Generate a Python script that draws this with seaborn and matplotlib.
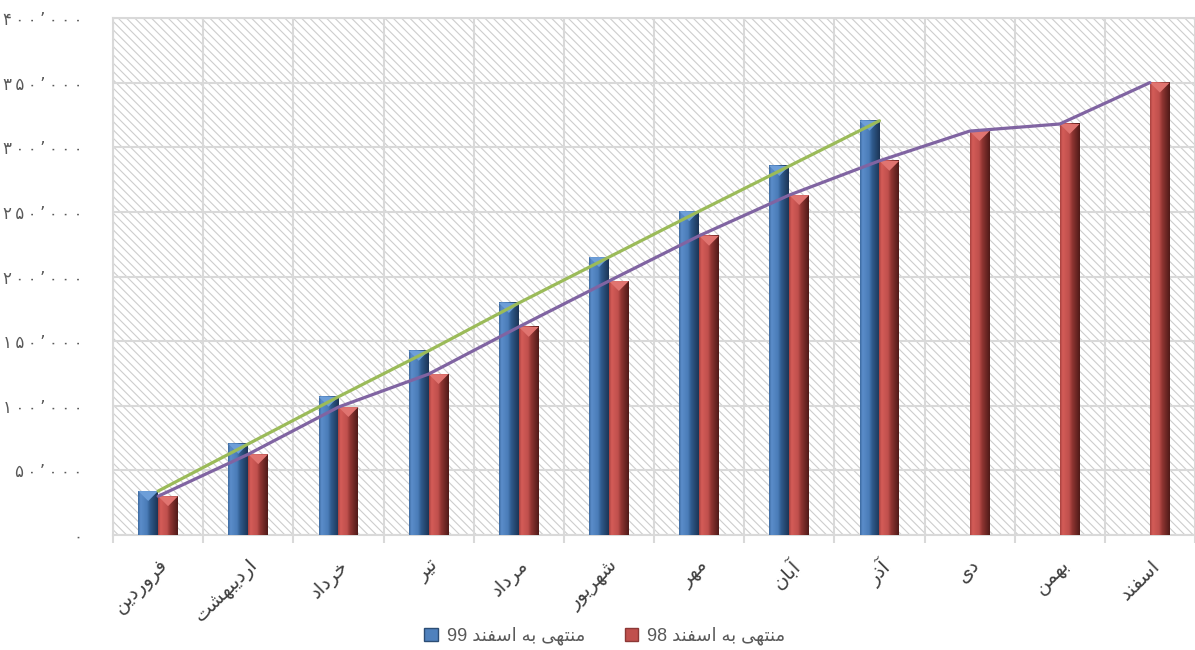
import re
import numpy as np
import pandas as pd
import matplotlib
matplotlib.use("Agg")
import matplotlib.pyplot as plt
from matplotlib.patches import Rectangle, Patch, Polygon
from matplotlib.colors import LinearSegmentedColormap
import seaborn as sns

# ---- data -------------------------------------------------------------
months = ["فروردین", "اردیبهشت", "خرداد", "تیر", "مرداد", "شهریور",
          "مهر", "آبان", "آذر", "دی", "بهمن", "اسفند"]
series_99 = [34000, 70500, 107000, 142500, 179500, 215000, 250500, 285500, 320500]
series_98 = [30000, 62500, 99000, 124500, 161000, 196500, 231500, 263000,
             289500, 312500, 318000, 350000]
label_99 = "منتهی به اسفند 99"
label_98 = "منتهی به اسفند 98"
y_ticks = list(range(0, 400001, 50000))

# ---- simple Persian shaping (presentation forms) + visual ordering ----
# isolated, final, initial, medial
FORMS = {
    'ا': ('\uFE8D', '\uFE8E', None, None),
    'آ': ('\uFE81', '\uFE82', None, None),
    'ب': ('\uFE8F', '\uFE90', '\uFE91', '\uFE92'),
    'ت': ('\uFE95', '\uFE96', '\uFE97', '\uFE98'),
    'خ': ('\uFEA5', '\uFEA6', '\uFEA7', '\uFEA8'),
    'د': ('\uFEA9', '\uFEAA', None, None),
    'ذ': ('\uFEAB', '\uFEAC', None, None),
    'ر': ('\uFEAD', '\uFEAE', None, None),
    'ز': ('\uFEAF', '\uFEB0', None, None),
    'س': ('\uFEB1', '\uFEB2', '\uFEB3', '\uFEB4'),
    'ش': ('\uFEB5', '\uFEB6', '\uFEB7', '\uFEB8'),
    'ف': ('\uFED1', '\uFED2', '\uFED3', '\uFED4'),
    'م': ('\uFEE1', '\uFEE2', '\uFEE3', '\uFEE4'),
    'ن': ('\uFEE5', '\uFEE6', '\uFEE7', '\uFEE8'),
    'ه': ('\uFEE9', '\uFEEA', '\uFEEB', '\uFEEC'),
    'و': ('\uFEED', '\uFEEE', None, None),
    'ی': ('\uFEEF', '\uFEF0', '\uFEF3', '\uFEF4'),
}


def shape(text):
    out = []
    for i, ch in enumerate(text):
        f = FORMS.get(ch)
        if f is None:
            out.append(ch)
            continue
        prev = text[i - 1] if i > 0 else ''
        nxt = text[i + 1] if i + 1 < len(text) else ''
        join_prev = prev in FORMS and FORMS[prev][2] is not None
        join_next = f[2] is not None and nxt in FORMS
        if join_prev and join_next:
            out.append(f[3])
        elif join_prev:
            out.append(f[1])
        elif join_next:
            out.append(f[2])
        else:
            out.append(f[0])
    return ''.join(out)


def rtl(text):
    vis = shape(text)[::-1]
    return re.sub(r'[0-9]+', lambda m: m.group(0)[::-1], vis)


fa_digits = str.maketrans("0123456789", "۰۱۲۳۴۵۶۷۸۹")


def fa_number(v):
    s = f"{int(v):,}".replace(",", "’").translate(fa_digits)
    # loosely tracked digits
    return "\u2009".join(s)


# ---- style ------------------------------------------------------------
sns.set_theme(style="white")
plt.rcParams['font.family'] = ['DejaVu Sans']
plt.rcParams['hatch.linewidth'] = 0.8

blue, red = "#4f81bd", "#c0504d"
green, purple = "#9bbb59", "#8064a2"
grid_c = "#d9d9d9"

fig = plt.figure(figsize=(11.95, 6.5), dpi=100)
ax = fig.add_axes([0.0946, 0.1769, 0.9054, 0.7954])

rows = [(m, label_99, v) for m, v in zip(months, series_99)] + \
       [(m, label_98, v) for m, v in zip(months, series_98)]
df = pd.DataFrame(rows, columns=["month", "series", "value"])

sns.barplot(data=df, x="month", y="value", hue="series", order=months,
            hue_order=[label_99, label_98], palette=[blue, red],
            width=0.44, gap=0, saturation=1, legend=False,
            edgecolor="none", linewidth=0, ax=ax, zorder=3)

ax.set_xlim(-0.5, len(months) - 0.5)
ax.set_ylim(0, 400000)

# bevelled shading on each bar
cmap_blue = LinearSegmentedColormap.from_list(
    "b", [(0, "#3d6aa0"), (0.12, "#5b8dca"), (0.45, "#4a7cb8"),
          (0.62, "#2f5a8c"), (1, "#1c3556")])
cmap_red = LinearSegmentedColormap.from_list(
    "r", [(0, "#a8423f"), (0.12, "#d45c58"), (0.45, "#c0504d"),
          (0.62, "#8f3532"), (1, "#4f1a18")])
top_colors = ["#6d9ed8", "#e07470"]
grad = np.linspace(0, 1, 64).reshape(1, -1)
inv = ax.transData.inverted()
for cont, cmap, tcol in zip(ax.containers, [cmap_blue, cmap_red], top_colors):
    for bar in cont:
        x0, w, h = bar.get_x(), bar.get_width(), bar.get_height()
        if not np.isfinite(h) or h <= 0:
            continue
        ax.imshow(grad, cmap=cmap, extent=[x0, x0 + w, 0, h], aspect="auto",
                  zorder=3.1, interpolation="bilinear")
        p0 = ax.transData.transform((x0, h))
        p1 = ax.transData.transform((x0 + w, h))
        half = (p1[0] - p0[0]) / 2
        y_tip = inv.transform((p0[0], p0[1] - half))[1]
        ax.add_patch(Polygon([(x0, h), (x0 + w, h), (x0 + w / 2, y_tip)],
                             closed=True, facecolor=tcol, edgecolor="none",
                             zorder=3.2))

ax.set_xlim(-0.5, len(months) - 0.5)
ax.set_ylim(0, 400000)

# cumulative lines through category centres
sns.lineplot(x=np.arange(len(series_98)), y=series_98, color=purple,
             linewidth=2.3, ax=ax, zorder=5)
sns.lineplot(x=np.arange(len(series_99)), y=series_99, color=green,
             linewidth=2.3, ax=ax, zorder=5.1)

# hatched plot background
ax.set_facecolor("white")
ax.add_patch(Rectangle((0, 0), 1, 1, transform=ax.transAxes,
                       facecolor="white", edgecolor="#cdcdcd",
                       hatch="\\\\\\\\", linewidth=0, zorder=0))

# grid and ticks
ax.set_axisbelow(True)
ax.set_xticks(np.arange(-0.5, len(months), 1))
ax.set_xticklabels([])
ax.set_xticks(np.arange(len(months)), minor=True)
ax.set_xticklabels([rtl(m) for m in months], minor=True, rotation=45,
                   ha="right", va="top", rotation_mode="anchor",
                   fontsize=14, color="#404040")
ax.tick_params(axis="x", which="major", bottom=True, length=6,
               width=1.5, color=grid_c, direction="out")
ax.tick_params(axis="x", which="minor", bottom=True, length=0, pad=15)

ax.set_yticks(y_ticks)
ax.set_yticklabels([fa_number(v) for v in y_ticks], fontsize=12,
                   color="#595959")
ax.tick_params(axis="y", left=False, length=0, pad=22)

ax.grid(True, which="major", axis="both", color=grid_c, linewidth=1.5)
ax.set_xlabel("")
ax.set_ylabel("")
for side, sp in ax.spines.items():
    sp.set_color(grid_c)
    sp.set_linewidth(1.5)
ax.spines["right"].set_visible(False)

handles = [Patch(facecolor=blue, edgecolor="#2c4d75", label=rtl(label_99)),
           Patch(facecolor=red, edgecolor="#8c3836", label=rtl(label_98))]
leg = fig.legend(handles=handles, loc="center", bbox_to_anchor=(0.506, 0.022),
                 ncol=2, frameon=False, handlelength=0.75,
                 handleheight=0.75, handletextpad=0.5, columnspacing=2.2,
                 labelcolor="#595959",
                 prop={"family": ["Liberation Sans", "DejaVu Sans"], "size": 13})

fig.savefig("out.png", dpi=100)
